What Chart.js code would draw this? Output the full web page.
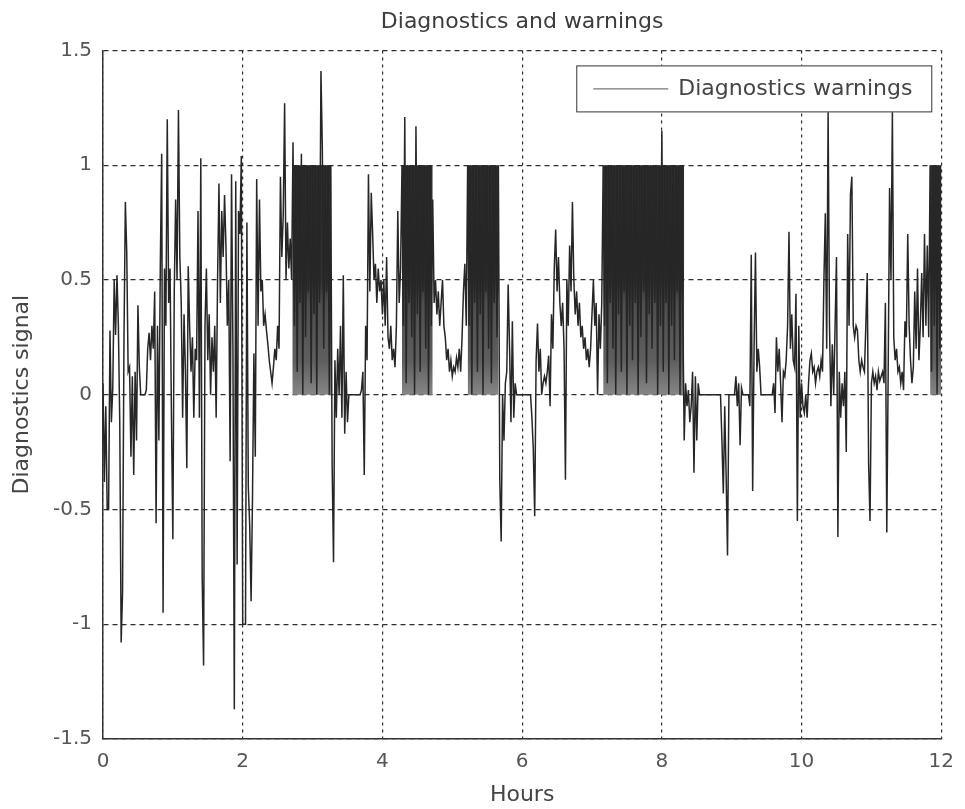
<!DOCTYPE html>
<html>
<head>
<meta charset="utf-8">
<title>Diagnostics and warnings</title>
<script src="https://cdn.jsdelivr.net/npm/chart.js@4.4.1/dist/chart.umd.min.js"></script>
<style>
  html, body { margin: 0; padding: 0; background: #fff; }
  canvas { display: block; }
</style>
</head>
<body>
<canvas id="myChart" width="965" height="809"></canvas>
<script>
const sampleStep = 0.02;
const signal = [
  // 0 h
  0.05, -0.38, -0.05, -0.5, -0.5, 0.28, -0.12, 0.03, 0.5, 0.26,
  0.52, 0.3, -0.12, -1.08, -0.86, 0.23, 0.84, 0.62, 0.1, 0.12,
  -0.27, 0.08, -0.35, 0.1, -0.2, 0.39, 0.12, 0, 0, 0,
  0, 0.02, 0.2, 0.27, 0.15, 0.3, 0.2, 0.45, -0.56, 0.3,
  -0.2, 0.55, 1.05, -0.95, 0.55, 0.3, 1.2, 0.4, 0.55, -0.1,
  // 1 h
  -0.63, 0.45, 0.85, 0.5, 1.24, 0.6, 0.4, -0.1, 0.35, 0.1,
  -0.32, 0.56, 0.3, 0.1, 0.25, -0.1, 0.2, 0.15, 0.8, -0.1,
  1.03, -0.8, -1.18, 0.3, 0.55, 0.15, 0.35, 0, 0.25, 0.1,
  0.3, -0.1, 0.5, 0.92, 0.4, 0.8, 0.6, 0.87, 0.65, 0.3,
  0.5, -0.29, 0.96, 0.2, -1.37, 0.93, -0.74, 0.8, 0.7, 1.04,
  // 2 h
  -1, -1, -1, 0.75, -0.4, -0.57, -0.9, -0.45, 0.18, -0.27,
  0.94, 0.3, 0.85, 0.45, 0.5, 0.3, 0.35, 0.28, 0.22, 0.15,
  0.1, 0.05, 0.12, 0.2, 0.15, 0.3, 0.2, 0.95, 0.6, 0.78,
  1.27, 0.5, 0.75, 0.55, 0.68, 0.5, 1.1, 0.3, 1, 0.1,
  1, 0.4, 1.05, 0, 1, 0.25, 1, 0.45, 1, 0.05,
  // 3 h
  1, 0.35, 1, 0, 1, 0.4, 1.41, 1.07, 0.2, 1,
  0.45, 1, 0, 1, -0.3, -0.73, 0.15, -0.1, 0.2, 0,
  0.3, -0.1, 0.52, -0.17, 0.1, -0.12, 0, 0, 0, 0,
  0, 0, 0, 0, 0, 0.02, 0.1, -0.35, 0.3, 0.15,
  0.96, 0.45, 0.88, 0.7, 0.5, 0.57, 0.4, 0.55, 0.45, 0.5,
  // 4 h
  0.35, 0.5, 0.3, 0.6, 0.25, 0.2, 0.3, 0.15, 0.2, 0.12,
  0.3, 0.8, 0.4, 0.55, 1, 0.3, 1.21, 0.05, 1, 0.4,
  1, 0.25, 1, 0, 1.17, 0.35, 1, 0.1, 1, 0.45,
  1, 0.2, 1, 0, 1, 0.3, 0.85, 0.4, 0.5, 0.35,
  0.45, 0.3, 0.4, 0.5, 0.3, 0.25, 0.15, 0.2, 0.1, 0.15,
  // 5 h
  0.08, 0.12, 0.1, 0.16, 0.12, 0.2, 0.1, 0.25, 0.45, 0.57,
  0.3, 1, 0.3, 1, 0, 1, 0.4, 1, 0.1, 1,
  0.35, 1, 0, 1, 0.45, 1, 0.2, 1, 0.05, 1,
  0.4, 1, 0.25, 1, -0.37, -0.64, 0, -0.2, 0.05, 0.1,
  0.48, 0.2, -0.12, 0.32, -0.1, 0.05, 0, 0, 0, 0,
  // 6 h
  0, 0, 0, 0, 0, 0, 0, -0.1, -0.24, -0.53,
  0.15, 0.31, 0.1, 0.2, 0, 0.05, 0.08, 0.05, 0.1, 0.17,
  -0.05, 0.35, 0.2, 0.55, 0.72, 0.45, 0.6, 0.4, 0.3, 0.4,
  0.2, -0.37, 0.5, 0.3, 0.65, 0.45, 0.84, 0.5, 0.35, 0.45,
  0.3, 0.4, 0.25, 0.3, 0.2, 0.25, 0.15, 0.2, 0.12, 0.2,
  // 7 h
  0.35, 0.5, 0.3, 0.4, 0, 0.35, 0.2, 0.4, 1, 0.3,
  1, 0.05, 1, 0.4, 1, 0.2, 1, 0, 1, 0.35,
  1, 0.1, 1, 0.45, 1, 0, 1, 0.3, 1, 0.15,
  1, 0.4, 1, 0, 1, 0.25, 1, 0.45, 1, 0.05,
  1, 0.35, 1, 0.2, 1, 0.4, 1, 0, 1, 0.3,
  // 8 h
  1.15, 0.1, 1, 0.4, 1, 0, 1, 0.3, 1, 0.15,
  1, 0.45, 1, 0, 1, 0.35, -0.2, 0.05, -0.05, 0.02,
  -0.12, -0.05, 0.1, -0.34, 0.08, -0.2, 0.05, 0, 0, 0,
  0, 0, 0, 0, 0, 0, 0, 0, 0, 0,
  0, 0, 0, -0.2, -0.43, -0.05, -0.35, -0.7, 0, 0,
  // 9 h
  0, 0, 0, 0.08, -0.05, 0.05, -0.22, 0.03, 0, 0,
  0, 0, 0, -0.05, 0.61, -0.42, 0.2, 0.62, 0.1, 0.2,
  0.12, 0, 0, 0, 0, 0, 0, 0, 0, 0,
  0.05, -0.08, 0.25, 0.1, 0.2, 0.05, -0.12, 0.1, 0.08, 0.15,
  0.3, 0.71, 0.2, 0.35, 0.15, 0.12, 0.44, -0.55, 0.3, -0.1,
  // 10 h
  0.05, -0.05, -0.08, 0, -0.1, 0.05, 0.15, 0.18, 0.1, 0.12,
  0.05, 0.1, 0.12, 0.08, 0.15, 0.1, 0.5, 0.79, 0.2, 1.23,
  0.3, -0.05, 0.22, 0, 0.3, 0.6, -0.62, 0.1, -0.1, 0.05,
  -0.05, 0.1, -0.25, 0.7, 0.3, 0.87, 0.95, 0.3, 0.25, 0.3,
  0.28, 0.15, 0.1, 0.15, 0.12, 0.1, 0.3, 0.53, -0.3, -0.55,
  // 11 h
  0.05, 0.1, 0.05, 0.08, 0.02, 0.1, 0.06, 0.08, 0.1, 0.05,
  0.4, -0.6, 0.1, 0.9, 0.5, 1.23, 0.25, 0.15, 0.2, 0.1,
  0.12, 0.05, 0.1, 0.02, 0.32, 0.25, 0.7, 0.3, 0.15, 0.05,
  0.12, 0.45, 0.2, 0.55, 0.15, 0.3, 0.53, 0.25, 0.7, 0.3,
  0.65, 0.25, 1, 0.1, 1, 0.3, 1, 0, 1, 0.2,
  // 12 h
  1
];

// spans where the warning flag toggles so fast that the trace is a solid band (0..1)
const warningStart = [2.71, 4.28, 5.22, 7.16, 11.84];
const warningEnd = [3.27, 4.72, 5.66, 8.32, 12];

const hourTicks = [0, 2, 4, 6, 8, 10, 12];
const signalTicks = [-1.5, -1, -0.5, 0, 0.5, 1, 1.5];

const points = signal.map((v, i) => ({ x: +(i * sampleStep).toFixed(2), y: v }));

const bandPoints = [];
warningStart.forEach((s, i) => {
  bandPoints.push({ x: s, y: 1 }, { x: warningEnd[i], y: 1 }, { x: warningEnd[i], y: null });
});

const textFont = { family: "'DejaVu Sans', sans-serif", size: 22 };
const tickFont = { family: "'DejaVu Sans', sans-serif", size: 20 };

function bandShade(context) {
  const { chart } = context;
  if (!chart.chartArea) return '#444';
  const y = chart.scales.y;
  const top = y.getPixelForValue(1);
  const bottom = y.getPixelForValue(0);
  const g = chart.ctx.createLinearGradient(0, top, 0, bottom);
  g.addColorStop(0, '#2c2c2c');
  g.addColorStop(0.5, '#313131');
  g.addColorStop(0.6, '#4e4e4e');
  g.addColorStop(0.85, '#5e5e5e');
  g.addColorStop(1, '#868686');
  return g;
}

// MATLAB style legend box in the top right corner
const legendBox = {
  id: 'legendBox',
  afterDraw(chart) {
    const { ctx, chartArea } = chart;
    const w = 355, h = 46;
    const x = chartArea.right - 10 - w;
    const y = chartArea.top + 15;
    ctx.save();
    ctx.fillStyle = '#fff';
    ctx.fillRect(x, y, w, h);
    ctx.strokeStyle = '#333';
    ctx.lineWidth = 1;
    ctx.strokeRect(x + 0.5, y + 0.5, w, h);
    ctx.strokeStyle = '#555';
    ctx.beginPath();
    ctx.moveTo(x + 17, y + 23.5);
    ctx.lineTo(x + 92, y + 23.5);
    ctx.stroke();
    ctx.fillStyle = '#444';
    ctx.font = "22px 'DejaVu Sans', sans-serif";
    ctx.textBaseline = 'middle';
    ctx.fillText(chart.data.datasets[0].label, x + 102, y + 24);
    ctx.restore();
  }
};

new Chart(document.getElementById('myChart'), {
  type: 'line',
  data: {
    datasets: [{
      label: 'Diagnostics warnings',
      data: points,
      borderColor: '#262626',
      borderWidth: 1.5,
      pointRadius: 0,
      fill: false,
      tension: 0,
      order: 1
    }, {
      label: 'Diagnostics warnings (dense)',
      data: bandPoints,
      borderColor: 'transparent',
      borderWidth: 0,
      backgroundColor: bandShade,
      pointRadius: 0,
      fill: 'origin',
      spanGaps: false,
      tension: 0,
      order: 2
    }]
  },
  options: {
    responsive: false,
    devicePixelRatio: 1,
    animation: false,
    layout: { padding: { right: 17 } },
    plugins: {
      legend: { display: false },
      tooltip: { enabled: false },
      title: {
        display: true,
        text: 'Diagnostics and warnings',
        fullSize: false,
        color: '#3c3c3c',
        font: { ...textFont, weight: 'normal' },
        padding: { top: 9, bottom: 15 }
      }
    },
    scales: {
      x: {
        type: 'linear',
        min: 0,
        max: 12,
        afterBuildTicks: (s) => { s.ticks = hourTicks.map(v => ({ value: v })); },
        afterFit: (s) => { s.height = 70; },
        ticks: { color: '#555', font: tickFont, padding: 11, maxRotation: 0 },
        grid: { color: '#2e2e2e', lineWidth: 1.2, drawTicks: false },
        border: { display: true, color: '#333', width: 1.5, dash: [3, 4] },
        title: { display: true, text: 'Hours', color: '#444', font: textFont, padding: { top: 0, bottom: 1 } }
      },
      y: {
        type: 'linear',
        min: -1.5,
        max: 1.5,
        afterBuildTicks: (s) => { s.ticks = signalTicks.map(v => ({ value: v })); },
        afterFit: (s) => { s.width = 103; },
        ticks: { color: '#555', font: tickFont, padding: 11, callback: (v) => String(v) },
        grid: { color: '#2e2e2e', lineWidth: 1.2, drawTicks: false },
        border: { display: true, color: '#333', width: 1.5, dash: [5, 4] },
        title: { display: true, text: 'Diagnostics signal', color: '#444', font: textFont, padding: { top: 9, bottom: 0 } }
      }
    }
  },
  plugins: [legendBox]
});
</script>
</body>
</html>
